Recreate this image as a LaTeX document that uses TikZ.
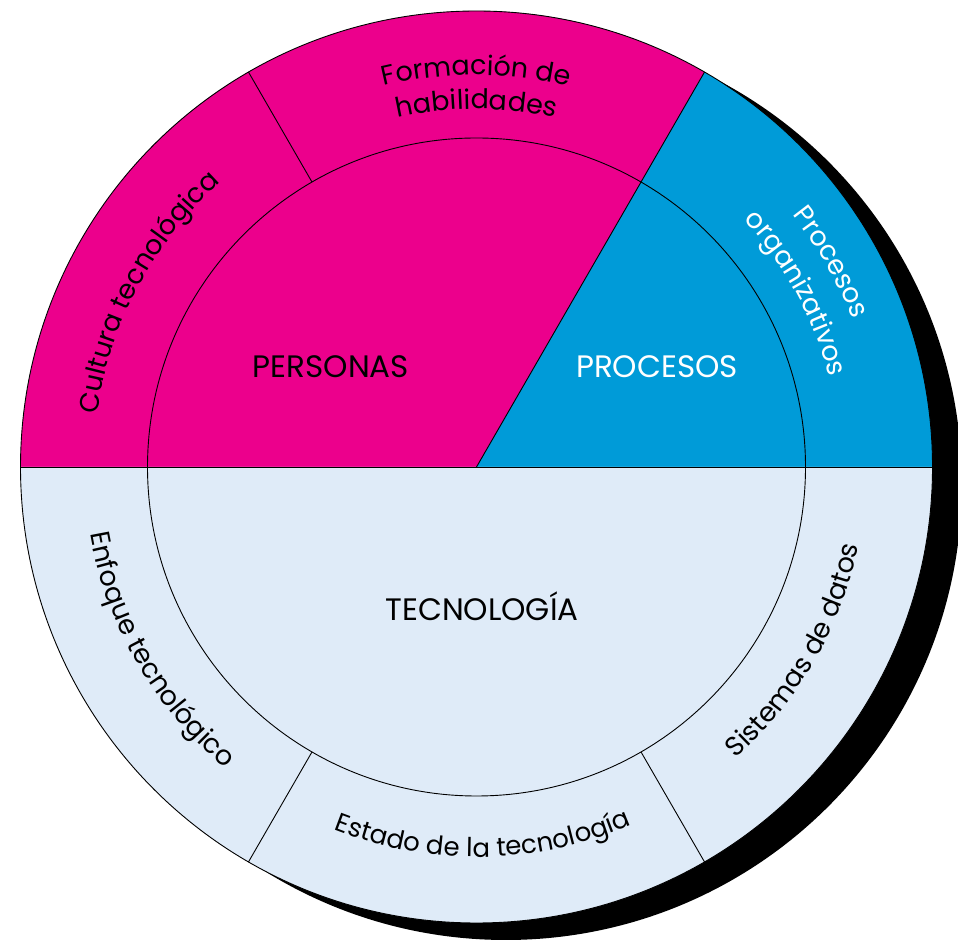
\documentclass[tikz,border=0pt]{standalone}
\usepackage{fontspec}
\setmainfont{Poppins}
\usetikzlibrary{calc,decorations.text}
\definecolor{mypink}{RGB}{236,0,140}
\definecolor{myblue}{RGB}{0,155,216}
\definecolor{mylight}{RGB}{223,235,248}
\newcommand{\lblfont}{\fontsize{31}{36}\selectfont}
\newcommand{\ringfont}{\fontsize{27}{32}\selectfont}
\newcommand{\ringfontb}{\fontsize{26}{30}\selectfont}
\begin{document}
\begin{tikzpicture}[x=1pt,y=1pt,
  sep/.style={draw=black,line width=0.9pt},
  lbl/.style={font=\lblfont,inner sep=0pt,anchor=base},
  arctext/.style={decorate,decoration={text along path,text align=center,text={#1}}}
]
\useasboundingbox (0,0) rectangle (958,944);
\clip (0,0) rectangle (958,944);
\coordinate (C) at (476.5,477);
\coordinate (S) at (505.9,460);
% shadow
\fill[black] (S) circle[radius=456pt];
% sectors
\fill[mypink] (C) -- ($(C)+(60:456pt)$) arc[start angle=60,end angle=180,radius=456pt] -- cycle;
\fill[myblue] (C) -- ($(C)+(0:456pt)$) arc[start angle=0,end angle=60,radius=456pt] -- cycle;
\fill[mylight] (C) -- ($(C)+(180:456pt)$) arc[start angle=180,end angle=360,radius=456pt] -- cycle;
% lines
\draw[sep] (C) circle[radius=456pt];
\draw[sep] (C) circle[radius=329pt];
\draw[sep] ($(C)+(180:456pt)$) -- ($(C)+(0:456pt)$);
\draw[sep] (C) -- ($(C)+(60:456pt)$);
\draw[sep] ($(C)+(120:329pt)$) -- ($(C)+(120:456pt)$);
\draw[sep] ($(C)+(240:329pt)$) -- ($(C)+(240:456pt)$);
\draw[sep] ($(C)+(300:329pt)$) -- ($(C)+(300:456pt)$);
% centre labels
\node[lbl] (personas) at (331,566) {PERSONAS};
\node[lbl,text=white] (procesos) at (657,566) {PROCESOS};
\node[lbl] (tecnologia) at (482,323) {TECNOLOGÍA};
% ring labels
\path[arctext={|\ringfont|Formación de}] ($(C)+(120:392pt)$) arc[start angle=120,end angle=60,radius=392pt];
\path[arctext={|\ringfont|habilidades}] ($(C)+(120:358pt)$) arc[start angle=120,end angle=60,radius=358pt];
\path[arctext={|\ringfont|Cultura tecnológica}] ($(C)+(182:383pt)$) arc[start angle=182,end angle=122,radius=383pt];
\path[arctext={|\ringfont\color{white}|Procesos}] ($(C)+(60:404pt)$) arc[start angle=60,end angle=0,radius=404pt];
\path[arctext={|\ringfont\color{white}|organizativos}] ($(C)+(57:364pt)$) arc[start angle=57,end angle=0,radius=364pt];
\path[arctext={|\ringfont|Enfoque tecnológico}] ($(C)+(180:392pt)$) arc[start angle=180,end angle=240,radius=392pt];
\path[arctext={|\ringfontb|Estado de la tecnología}] ($(C)+(241:390pt)$) arc[start angle=241,end angle=301,radius=390pt];
\path[arctext={|\ringfont|Sistemas de datos}] ($(C)+(300:390pt)$) arc[start angle=300,end angle=360,radius=390pt];
\end{tikzpicture}
\end{document}
